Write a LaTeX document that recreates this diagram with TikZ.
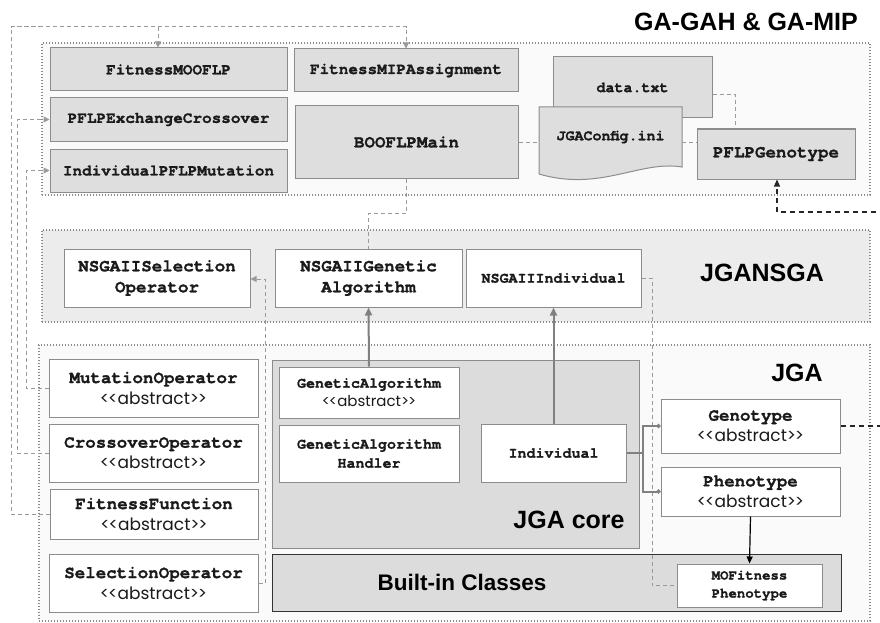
\documentclass[tikz,border=0pt]{standalone}
\usepackage{fontspec}
\setmainfont{Liberation Sans}
\newfontfamily\monof[BoldFeatures={FakeBold=1.2}]{TeX Gyre Cursor}
\newfontfamily\absf{Poppins}
\usetikzlibrary{arrows.meta,calc}
\definecolor{boxgray}{HTML}{DEDEDE}
\definecolor{bdr}{HTML}{8C8C8C}
\definecolor{grpline}{HTML}{8A8A8A}
\definecolor{lightfill}{HTML}{FAFAFA}
\definecolor{nsgafill}{HTML}{ECECEC}
\definecolor{corefill}{HTML}{DCDCDC}
\definecolor{dashgray}{HTML}{9A9A9A}
\definecolor{solidgray}{HTML}{808080}
\definecolor{txt}{HTML}{1A1A1A}
\newcommand{\abstxt}[1]{{\absf\mdseries\fontsize{#1}{20}\selectfont <\kern-1.2pt<abstract>\kern-1.2pt>}}
\begin{document}
\begin{tikzpicture}[x=1pt,y=-1pt,
  grp/.style={draw=grpline, line width=1.6pt, dash pattern=on 1.4pt off 1.6pt, inner sep=0pt},
  gbox/.style={draw=bdr, fill=boxgray, line width=1pt, inner sep=0pt, align=center, text=txt,
     font=\monof\bfseries\fontsize{16}{21}\selectfont},
  gboxL/.style={gbox, font=\monof\bfseries\fontsize{17.5}{21}\selectfont},
  gboxS/.style={gbox, font=\monof\bfseries\fontsize{15}{21}\selectfont},
  wbox/.style={draw=bdr, fill=white, line width=1pt, inner sep=0pt, align=center, text=txt,
     font=\monof\bfseries\fontsize{17.5}{21}\selectfont},
  wboxS/.style={wbox, font=\monof\bfseries\fontsize{15}{19}\selectfont},
  ttl/.style={inner sep=0pt, text=black, font=\bfseries\fontsize{25}{30}\selectfont},
  gdash/.style={draw=dashgray, line width=1pt, dash pattern=on 4pt off 3pt},
  bdash/.style={draw=black!85, line width=1.2pt, dash pattern=on 5pt off 4pt},
  gtip/.style={-{Triangle[length=6pt,width=6pt,fill=dashgray]}},
  solidarr/.style={draw=solidgray, line width=2pt, -{Triangle[length=8pt,width=7pt]}},
  branch/.style={draw=solidgray, line width=2pt, -{Circle[length=4pt]}},
]
\clip (0,0) rectangle (880,623);
\fill[white] (0,0) rectangle (880,623);

% ---------- groups ----------
\node[grp, fill=lightfill, minimum width=828, minimum height=152] (gagah) at (456,119) {};
\node[grp, fill=nsgafill, minimum width=828, minimum height=92] (jgansga) at (456,276) {};
\node[grp, fill=lightfill, minimum width=831, minimum height=276] (jga) at (454.5,483) {};

\node[ttl] (t1) at (746,22) {GA-GAH \& GA-MIP};
\node[ttl] (t2) at (762,273) {JGANSGA};
\node[ttl] (t3) at (797,373) {JGA};

% ---------- JGA core / built-in ----------
\node[draw=bdr, fill=corefill, line width=1pt, inner sep=0pt, minimum width=367, minimum height=188] (core) at (455.5,454) {};
\node[ttl] (t4) at (569,520) {JGA core};
\node[draw=black!80, fill=corefill, line width=1pt, inner sep=0pt, minimum width=569, minimum height=57] (builtin) at (556.5,582.5) {};
\node[ttl, font=\bfseries\fontsize{22.5}{27}\selectfont] (t5) at (462,582) {Built-in Classes};

% ---------- GA-GAH & GA-MIP boxes ----------
\node[gbox, minimum width=237, minimum height=43] (fmoo) at (168.5,69.5) {FitnessMOOFLP};
\node[gbox, minimum width=224, minimum height=43] (fmip) at (406,70.5) {FitnessMIPAssignment};
\node[gbox, minimum width=237, minimum height=43] (pflpx) at (168.5,119.5) {PFLPExchangeCrossover};
\node[gbox, minimum width=237, minimum height=43] (ipm) at (168.5,170.5) {IndividualPFLPMutation};
\node[gboxL, minimum width=223, minimum height=72] (boo) at (406.5,142) {BOOFLPMain};
\node[gboxS, minimum width=159, minimum height=61] (data) at (632.5,87.5) {data.txt};
\filldraw[draw=bdr, fill=boxgray, line width=1pt]
  (539,107) -- (682,107) -- (682,167) .. controls (640,160) and (600,192) .. (539,174) -- cycle;
\node[inner sep=0pt, minimum width=143, minimum height=60, text=txt,
  font=\monof\bfseries\fontsize{15}{19}\selectfont] (cfg) at (610.5,137) {JGAConfig.ini};
\node[gboxL, minimum width=158, minimum height=50] (pgen) at (776,154) {PFLPGenotype};

% ---------- JGANSGA boxes ----------
\node[wbox, minimum width=186, minimum height=58] (nsel) at (157,278) {NSGAIISelection\\Operator};
\node[wbox, minimum width=187, minimum height=58] (nga) at (368.5,278) {NSGAIIGenetic\\Algorithm};
\node[wboxS, minimum width=175, minimum height=58] (nind) at (553.5,278) {NSGAIIIndividual};

% ---------- JGA boxes ----------
\node[wbox, minimum width=209, minimum height=58] (mut) at (153.5,388) {MutationOperator\\\abstxt{17}};
\node[wbox, minimum width=209, minimum height=58] (cro) at (153.5,453) {CrossoverOperator\\\abstxt{17}};
\node[wbox, minimum width=208, minimum height=50] (fit) at (154,514) {FitnessFunction\\\abstxt{17}};
\node[wbox, minimum width=209, minimum height=58] (sel) at (153.5,583) {SelectionOperator\\\abstxt{17}};
\node[wboxS, minimum width=180, minimum height=51] (ga) at (369,392.5) {GeneticAlgorithm\\\abstxt{15}};
\node[wboxS, minimum width=180, minimum height=57] (gah) at (369,453.5) {GeneticAlgorithm\\Handler};
\node[wboxS, minimum width=145, minimum height=58] (ind) at (553.5,453) {Individual};
\node[wbox, minimum width=179, minimum height=54] (geno) at (750.5,426) {Genotype\\\abstxt{17}};
\node[wbox, minimum width=179, minimum height=49] (pheno) at (750.5,491.5) {Phenotype\\\abstxt{17}};
\node[wboxS, minimum width=145, minimum height=43, font=\monof\bfseries\fontsize{14}{18}\selectfont] (mofp) at (749.5,585.5) {MOFitness\\Phenotype};

% ---------- coordinates ----------
\coordinate (c1) at (11,27);
\coordinate (c2) at (17,119.5);
\coordinate (c3) at (26,170.5);
\coordinate (c4) at (265,279);
\coordinate (c5) at (368.5,213);
\coordinate (c6) at (652,585.5);
\coordinate (c7) at (886,212);
\coordinate (c9) at (643,453);

% ---------- dashed connectors ----------
\draw[gdash, gtip] (fit.west) -| (c1) -| (fmip.north);
\draw[gdash, gtip] (c1) -| ([xshift=-10.5pt]fmoo.north);
\draw[gdash, gtip] (cro.west) -| (c2) -- (pflpx.west);
\draw[gdash, gtip] (mut.west) -| (c3) -- (ipm.west);
\draw[gdash, gtip] (sel.east) -| (c4) -- (c4 -| nsel.east);
\draw[gdash] (boo.south) |- (c5) -- (nga.north);
\draw[gdash] (nind.east) -| (c6) -- (mofp.west);
\draw[gdash] (boo.east) -- (boo.east -| cfg.west);
\draw[gdash] (cfg.east |- boo.east) -- (pgen.west |- boo.east);
\draw[gdash] ($(data.east)+(0,7.5)$) -| ([xshift=-41pt]pgen.north);
\draw[bdash, -{Triangle[length=7pt,width=6pt]}] (geno.east) -| (c7) -| ([xshift=1pt]pgen.south);

% ---------- solid connectors ----------
\draw[solidarr] (ga.north) -- (nga.south);
\draw[solidarr] (ind.north) -- (nind.south);
\draw[draw=solidgray, line width=2pt] (ind.east) -- (c9);
\draw[branch] (c9) |- (geno.west);
\draw[branch] (c9) |- (pheno.west);
\draw[line width=1.2pt, -{Triangle[length=7pt,width=6pt]}] (pheno.south) -- (mofp.north);
\end{tikzpicture}
\end{document}
